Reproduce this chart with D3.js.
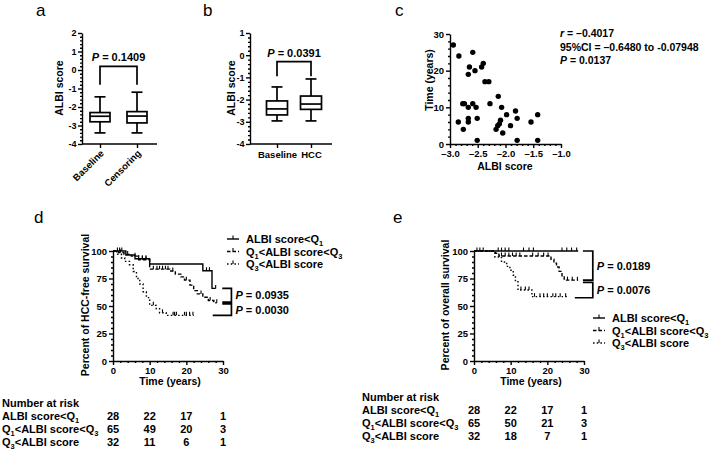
<!DOCTYPE html>
<html><head><meta charset="utf-8">
<script src="https://cdn.jsdelivr.net/npm/d3@7"></script>
<style>
body{margin:0;background:#fff;}
svg{display:block;}
</style></head><body>
<svg id="c" width="709" height="450"></svg>
<script>
// ---------------- DATA ----------------
// Panel a: box plots (min, Q1, median, Q3, max)
const boxCatsA = ["Baseline", "Censoring"];
const boxA_min = [-3.4, -3.4];
const boxA_q1  = [-2.8, -2.86];
const boxA_med = [-2.5, -2.49];
const boxA_q3  = [-2.3, -2.25];
const boxA_max = [-1.45, -1.2];
const pValueA = "0.1409";
const boxTicksA = [2, 1, 0, -1, -2, -3, -4];

// Panel b
const boxCatsB = ["Baseline", "HCC"];
const boxB_min = [-2.96, -2.96];
const boxB_q1  = [-2.69, -2.44];
const boxB_med = [-2.42, -2.2];
const boxB_q3  = [-2.06, -1.84];
const boxB_max = [-1.43, -1.07];
const pValueB = "0.0391";
const boxTicksB = [1, 0, -1, -2, -3, -4];

// Panel c: scatter ALBI score vs time (years)
const scatterX = [-2.94,-2.84,-2.59,-2.65,-2.67,-2.55,-2.43,-2.40,-2.37,-2.30,-2.77,-2.74,-2.67,-2.59,-2.53,-2.85,-2.76,-2.67,-2.67,-2.51,-2.51,-2.28,-2.13,-2.07,-1.98,-1.91,-1.82,-1.79,-1.79,-1.54,-1.42,-1.42,-2.17,-2.14,-2.11,-2.09,-2.05];
const scatterY = [27,24,25,21,19,20,21,22,17,17,11,11,10,11,10,6,4,7,6,7,1,11,13,10,8,5,9,7,1,6,8,1,4,5,5.5,6.5,3];
const scatterXTicks = [-3.0, -2.5, -2.0, -1.5, -1.0];
const scatterYTicks = [0, 10, 20, 30];
const corrText = ["r = \u20130.4017", "95%CI = \u20130.6480 to -0.07948", "P = 0.0137"];

// Groups
const groupNames = ["ALBI score<Q_1", "Q_1<ALBI score<Q_3", "Q_3<ALBI score"];
const riskTimes = [0, 10, 20, 30];

// Panel d: HCC-free survival (step times, survival %, last follow-up, censor times)
const kmD_lowT = [0, 3.5, 6, 10, 24.5, 27];
const kmD_lowS = [100, 96.4, 92.9, 88.2, 82, 66];
const kmD_lowEnd = 28;
const kmD_lowCens = [1.2, 1.8, 2.4, 7, 8, 9, 25.5, 26.3, 28];
const kmD_midT = [0, 1.5, 3, 5, 7, 10, 15.5, 17, 18.5, 19.5, 21, 22, 23, 24.5, 26, 27.5];
const kmD_midS = [100, 98.5, 96.9, 95.3, 92.1, 83.5, 81.8, 79, 76.5, 73.5, 69, 64, 61, 58, 55, 53];
const kmD_midEnd = 28.3;
const kmD_midCens = [2, 4, 6, 8, 9, 11, 12, 12.7, 13.5, 14.3, 15, 16.3, 20, 24, 26.5, 28.3];
const kmD_highT = [0, 1, 2.3, 3.2, 4.5, 5.5, 6.4, 7.3, 8.2, 9.1, 10, 11.8, 12.7, 14.5];
const kmD_highS = [100, 97, 93.7, 90.6, 87.5, 81.3, 75, 70, 63, 57.6, 50.6, 47.5, 43.8, 41.5];
const kmD_highEnd = 22;
const kmD_highCens = [11, 13.5, 16.4, 16.8, 17.3, 19.5, 20, 20.9, 21.8];
const pValuesD = ["0.0935", "0.0030"];
const riskD = [[28, 22, 17, 1], [65, 49, 20, 3], [32, 11, 6, 1]];

// Panel e: overall survival
const kmE_lowT = [0];
const kmE_lowS = [100];
const kmE_lowEnd = 28.4;
const kmE_lowCens = [0.8, 1.6, 2.5, 6.6, 7.5, 8.5, 9.5, 13.5, 15, 16.2, 24, 25.3, 26.6, 28];
const kmE_midT = [0, 5.8, 6.8, 21, 21.8, 22.5, 23.2, 24, 24.6];
const kmE_midS = [100, 98, 95.5, 92.5, 89, 85.5, 81.5, 77.5, 73.5];
const kmE_midEnd = 28.4;
const kmE_midCens = [7.5, 8.5, 9.5, 10.5, 11.5, 12.5, 16, 17.5, 19, 20.2, 25.5, 26.8, 28.2];
const kmE_highT = [0, 5.7, 7.5, 8.9, 9.8, 10.7, 11.3, 12, 15.8];
const kmE_highS = [100, 94.6, 90, 86, 82.5, 78, 72, 64.5, 58.5];
const kmE_highEnd = 25.3;
const kmE_highCens = [12.8, 14, 15, 16.5, 18, 19, 20, 21.5, 22.3, 23.5, 25];
const pValuesE = ["0.0189", "0.0076"];
const riskE = [[28, 22, 17, 1], [65, 50, 21, 3], [32, 18, 7, 1]];

const kmYTicks = [0, 25, 50, 75, 100];
const kmXTicks = [0, 10, 20, 30];

// ---------------- DRAWING ----------------
const FONT = '"Liberation Sans", Arial, Helvetica, sans-serif';
const svg = d3.select("#c").attr("font-family", FONT);
const LW = 1.4;
const dashes = [null, "3.5,2", "1.5,2.2"];

function styleAxis(a, fs) {
  a.attr("font-family", FONT).attr("font-size", fs || 9.5).attr("font-weight", "bold");
  a.selectAll("path,line").attr("stroke", "#000").attr("stroke-width", LW);
  a.selectAll("text").attr("fill", "#000");
}
function yAxis(x, scale, majors, minors, fmt, fs, pad) {
  const a = svg.append("g").attr("transform", `translate(${x},0)`);
  a.call(d3.axisLeft(scale).tickValues(majors).tickSize(4).tickSizeOuter(0).tickPadding(pad == null ? 2 : pad).tickFormat(fmt));
  const m = a.append("g").call(d3.axisLeft(scale).tickValues(minors).tickSize(2).tickFormat(""));
  m.select(".domain").remove();
  styleAxis(a, fs);
  return a;
}
function xAxis(y, scale, majors, minors, fmt) {
  const a = svg.append("g").attr("transform", `translate(0,${y})`);
  a.call(d3.axisBottom(scale).tickValues(majors).tickSize(4).tickSizeOuter(0).tickPadding(2).tickFormat(fmt));
  if (minors) {
    const m = a.append("g").call(d3.axisBottom(scale).tickValues(minors).tickSize(2).tickFormat(""));
    m.select(".domain").remove();
  }
  styleAxis(a);
  return a;
}
function minorRange(lo, hi, step, majors) {
  const out = [];
  const n = Math.round((hi - lo) / step);
  for (let i = 0; i <= n; i++) {
    const v = +(lo + i * step).toFixed(4);
    if (!majors.some(m => Math.abs(m - v) < 1e-6)) out.push(v);
  }
  return out;
}
function label(x, y, txt, size, opts) {
  opts = opts || {};
  const t = svg.append("text").attr("x", x).attr("y", y).attr("font-size", size)
    .attr("font-weight", opts.normal ? "normal" : "bold").attr("fill", "#000")
    .attr("text-anchor", opts.anchor || "start");
  if (opts.rotate) t.attr("transform", `rotate(${opts.rotate},${x},${y})`);
  t.text(txt);
  return t;
}
function pText(x, y, value, size, anchor) {
  const t = svg.append("text").attr("x", x).attr("y", y).attr("font-size", size)
    .attr("font-weight", "bold").attr("text-anchor", anchor || "start").attr("fill", "#000");
  t.append("tspan").attr("font-style", "italic").text("P");
  t.append("tspan").text(" = " + value);
  return t;
}
function rich(t, str, fs) {
  const parts = str.split(/_(\d)/);
  let sub = false;
  parts.forEach((p, i) => {
    if (p === "") return;
    if (i % 2 === 1) { t.append("tspan").attr("font-size", fs * 0.68).attr("dy", 3).text(p); sub = true; }
    else { const ts = t.append("tspan").text(p); if (sub) { ts.attr("dy", -3); sub = false; } }
  });
}

// ---- Box plot panel ----
function boxPanel(cfg) {
  const y = d3.scaleLinear().domain(cfg.domain).range([144, 33]);
  const x = d3.scalePoint().domain(cfg.cats).range(cfg.xr);
  yAxis(cfg.axisX, y, cfg.ticks, minorRange(cfg.domain[0], cfg.domain[1], 0.2, cfg.ticks), d => String(d), 9, 1.5);
  // x axis
  svg.append("line").attr("x1", cfg.axisX).attr("x2", cfg.axisEnd).attr("y1", 144).attr("y2", 144)
    .attr("stroke", "#000").attr("stroke-width", LW);
  const xa = svg.append("g").attr("transform", "translate(0,144)")
    .call(d3.axisBottom(x).tickSize(4).tickSizeOuter(0).tickPadding(3));
  xa.select(".domain").remove();
  styleAxis(xa);
  if (cfg.rotateLabels) {
    xa.selectAll("text").attr("text-anchor", "end").attr("dy", null).attr("y", 0)
      .attr("transform", d => `translate(4,10) rotate(-45)`);
  }
  const bw = cfg.boxW, cw = 5.5;
  cfg.cats.forEach((c, i) => {
    const cx = x(c);
    const g = svg.append("g").attr("stroke", "#000").attr("stroke-width", 1.7).attr("fill", "none");
    g.append("line").attr("x1", cx).attr("x2", cx).attr("y1", y(cfg.q3[i])).attr("y2", y(cfg.max[i]));
    g.append("line").attr("x1", cx).attr("x2", cx).attr("y1", y(cfg.q1[i])).attr("y2", y(cfg.min[i]));
    g.append("line").attr("x1", cx - cw).attr("x2", cx + cw).attr("y1", y(cfg.max[i])).attr("y2", y(cfg.max[i]));
    g.append("line").attr("x1", cx - cw).attr("x2", cx + cw).attr("y1", y(cfg.min[i])).attr("y2", y(cfg.min[i]));
    g.append("rect").attr("x", cx - bw / 2).attr("width", bw).attr("y", y(cfg.q3[i]))
      .attr("height", y(cfg.q1[i]) - y(cfg.q3[i])).attr("fill", "#fff");
    g.append("line").attr("x1", cx - bw / 2).attr("x2", cx + bw / 2).attr("y1", y(cfg.med[i])).attr("y2", y(cfg.med[i]));
  });
  // significance bracket
  const x0 = x(cfg.cats[0]), x1 = x(cfg.cats[1]);
  svg.append("path").attr("d", `M${x0},${y(cfg.brLeg)}V${y(cfg.brTop)}H${x1}V${y(cfg.brLeg)}`)
    .attr("fill", "none").attr("stroke", "#000").attr("stroke-width", 1.7);
  pText((x0 + x1) / 2, y(cfg.brTop) - 5, cfg.p, 11, "middle");
  label(cfg.ylabX, 88, "ALBI score", 10.5, { anchor: "middle", rotate: -90 });
}

boxPanel({ cats: boxCatsA, min: boxA_min, q1: boxA_q1, med: boxA_med, q3: boxA_q3, max: boxA_max,
  domain: [-4, 2], ticks: boxTicksA, xr: [100, 137], axisX: 82, axisEnd: 157, boxW: 20,
  brTop: 0.2, brLeg: -0.8, p: pValueA, ylabX: 63, rotateLabels: true });
boxPanel({ cats: boxCatsB, min: boxB_min, q1: boxB_q1, med: boxB_med, q3: boxB_q3, max: boxB_max,
  domain: [-4, 1], ticks: boxTicksB, xr: [277, 311], axisX: 250, axisEnd: 332, boxW: 21,
  brTop: -0.29, brLeg: -0.95, p: pValueB, ylabX: 235, rotateLabels: false });

// ---- Scatter panel c ----
{
  const x = d3.scaleLinear().domain([-3, -1]).range([450, 561]);
  const y = d3.scaleLinear().domain([0, 30]).range([144, 34]);
  yAxis(450, y, scatterYTicks, minorRange(0, 30, 2, scatterYTicks), d => String(d));
  xAxis(144, x, scatterXTicks, minorRange(-3, -1, 0.1, scatterXTicks), d => d.toFixed(1).replace("-", "\u2013"));
  svg.append("g").selectAll("circle").data(scatterX).join("circle")
    .attr("cx", d => x(d)).attr("cy", (d, i) => y(scatterY[i])).attr("r", 2.7).attr("fill", "#000");
  label(433, 80, "Time (years)", 10.5, { anchor: "middle", rotate: -90 });
  label(505, 170, "ALBI score", 10.5, { anchor: "middle" });
  const t0 = svg.append("text").attr("x", 560).attr("y", 37).attr("font-size", 10.5).attr("font-weight", "bold");
  t0.append("tspan").attr("font-style", "italic").text("r");
  t0.append("tspan").text(corrText[0].slice(1));
  label(560, 51, corrText[1], 10.5);
  const t2 = svg.append("text").attr("x", 560).attr("y", 64).attr("font-size", 10.5).attr("font-weight", "bold");
  t2.append("tspan").attr("font-style", "italic").text("P");
  t2.append("tspan").text(corrText[2].slice(1));
}

// ---- KM panels ----
function survAt(t, s, c) {
  let v = s[0];
  for (let i = 0; i < t.length; i++) if (t[i] <= c) v = s[i];
  return v;
}
function kmCurve(x, y, t, s, end, cens, dash) {
  const pts = t.map((ti, i) => [ti, s[i]]);
  pts.push([end, s[s.length - 1]]);
  const line = d3.line().x(d => x(d[0])).y(d => y(d[1])).curve(d3.curveStepAfter);
  svg.append("path").attr("d", line(pts)).attr("fill", "none").attr("stroke", "#000")
    .attr("stroke-width", LW).attr("stroke-dasharray", dash);
  svg.append("g").selectAll("line").data(cens).join("line")
    .attr("x1", d => x(d)).attr("x2", d => x(d))
    .attr("y1", d => y(survAt(t, s, d))).attr("y2", d => y(survAt(t, s, d)) - 3.5)
    .attr("stroke", "#000").attr("stroke-width", 1.1);
}
function kmBracket(x, y, yTop, yBot, xTopStart, xBotStart, xV, p) {
  svg.append("path")
    .attr("d", `M${x(xTopStart)},${y(yTop)}H${x(xV)}V${y(yBot)}H${x(xBotStart)}`)
    .attr("fill", "none").attr("stroke", "#000").attr("stroke-width", 1.7);
  pText(x(xV) + 4, (y(yTop) + y(yBot)) / 2 + 4, p, 11);
}
function legend(x0, yc, spacing) {
  groupNames.forEach((g, i) => {
    const yy = yc + i * spacing;
    svg.append("line").attr("x1", x0).attr("x2", x0 + 12).attr("y1", yy).attr("y2", yy)
      .attr("stroke", "#000").attr("stroke-width", LW).attr("stroke-dasharray", dashes[i]);
    svg.append("line").attr("x1", x0 + 6).attr("x2", x0 + 6).attr("y1", yy).attr("y2", yy - 3.5)
      .attr("stroke", "#000").attr("stroke-width", 1.1);
    const t = svg.append("text").attr("x", x0 + 19).attr("y", yy + 4).attr("font-size", 11)
      .attr("font-weight", "bold").attr("fill", "#000");
    rich(t, g, 11);
  });
}
function riskTable(x, tx, yHeader, spacing, data) {
  label(tx, yHeader + 4, "Number at risk", 11);
  groupNames.forEach((g, i) => {
    const yy = yHeader + (i + 1) * spacing + 4;
    const t = svg.append("text").attr("x", tx).attr("y", yy).attr("font-size", 11)
      .attr("font-weight", "bold").attr("fill", "#000");
    rich(t, g, 11);
    data[i].forEach((v, j) => {
      label(x(riskTimes[j]), yy, String(v), 11, { anchor: "middle" });
    });
  });
}
function kmPanel(cfg) {
  const x = d3.scaleLinear().domain([0, 30]).range(cfg.xr);
  const y = d3.scaleLinear().domain([0, 100]).range([361, 251]);
  yAxis(cfg.xr[0], y, kmYTicks, minorRange(0, 100, 5, kmYTicks), d => String(d));
  xAxis(361, x, kmXTicks, minorRange(0, 30, 2, kmXTicks), d => String(d));
  cfg.series.forEach((s, i) => kmCurve(x, y, s[0], s[1], s[2], s[3], dashes[i]));
  cfg.brackets.forEach(b => kmBracket(x, y, b[0], b[1], b[2], b[3], b[4], b[5]));
  label(cfg.ylabX, 305, cfg.ylab, 10.5, { anchor: "middle", rotate: -90 });
  label((cfg.xr[0] + cfg.xr[1]) / 2 + 2, 385, "Time (years)", 10.5, { anchor: "middle" });
  legend(cfg.legX, cfg.legY, 12.5);
  riskTable(x, cfg.tableX, cfg.tableY, cfg.tableSp, cfg.risk);
}

kmPanel({
  xr: [113, 223], ylabX: 89, ylab: "Percent of HCC-free survival",
  series: [[kmD_lowT, kmD_lowS, kmD_lowEnd, kmD_lowCens],
           [kmD_midT, kmD_midS, kmD_midEnd, kmD_midCens],
           [kmD_highT, kmD_highS, kmD_highEnd, kmD_highCens]],
  brackets: [[kmD_lowS[kmD_lowS.length - 1], 53.6, 29.8, 29.8, 32.3, pValuesD[0]],
             [52, kmD_highS[kmD_highS.length - 1], 29.8, 27.2, 32.3, pValuesD[1]]],
  legX: 227, legY: 239, tableX: 2, tableY: 403, tableSp: 13, risk: riskD
});
kmPanel({
  xr: [474, 584], ylabX: 449, ylab: "Percent of overall survival",
  series: [[kmE_lowT, kmE_lowS, kmE_lowEnd, kmE_lowCens],
           [kmE_midT, kmE_midS, kmE_midEnd, kmE_midCens],
           [kmE_highT, kmE_highS, kmE_highEnd, kmE_highCens]],
  brackets: [[100, 73.5, 29.7, 29.7, 32.4, pValuesE[0]],
             [71.5, 57.5, 29.7, 27.5, 32.4, pValuesE[1]]],
  legX: 593, legY: 318, tableX: 362, tableY: 397, tableSp: 13, risk: riskE
});

// Panel letters
[["a", 36, 16], ["b", 203, 16], ["c", 395, 16], ["d", 34, 223], ["e", 393, 223]].forEach(p =>
  label(p[1], p[2], p[0], 17, { normal: true }));
</script>
</body></html>
